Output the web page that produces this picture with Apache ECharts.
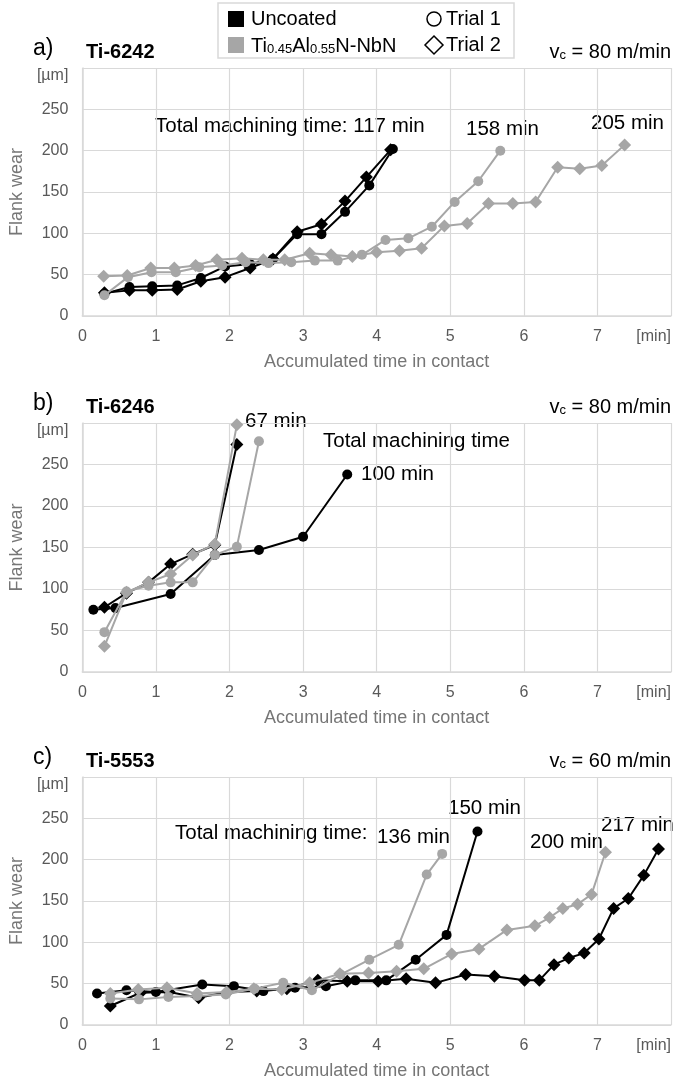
<!DOCTYPE html>
<html>
<head>
<meta charset="utf-8">
<script src="https://cdn.jsdelivr.net/npm/echarts@6/dist/echarts.min.js"></script>
<style>
  html, body { margin: 0; padding: 0; background: #ffffff; }
  #chart { width: 674px; height: 1081px; }
</style>
</head>
<body>
<div id="chart"></div>
<script>
// Tick labels (the last tick on each axis carries the unit)
const xTickLabels = ['0', '1', '2', '3', '4', '5', '6', '7', '[min]'];
const yTickLabels = ['0', '50', '100', '150', '200', '250', '[µm]'];

// a) Ti-6242, vc = 80 m/min  — [accumulated time in contact (min), flank wear (µm)]
const a_uncoated_trial1 = [[0.30,27],[0.64,35],[0.95,36],[1.29,37],[1.61,46],[1.94,60],[2.28,63],[2.59,69],[2.92,99],[3.25,99],[3.57,126],[3.90,158],[4.22,202]];
const a_uncoated_trial2 = [[0.30,28],[0.64,31],[0.95,31],[1.29,32],[1.61,42],[1.94,47],[2.28,58],[2.59,69],[2.92,102],[3.25,111],[3.57,139],[3.86,168],[4.19,201]];
const a_coated_trial1 = [[0.30,25],[0.62,47],[0.94,53],[1.27,53],[1.59,59],[1.90,61],[2.22,65],[2.53,64],[2.84,65],[3.16,67],[3.47,67],[3.80,74],[4.12,92],[4.43,94],[4.75,108],[5.06,138],[5.38,163],[5.68,200]];
const a_coated_trial2 = [[0.29,48],[0.61,49],[0.93,58],[1.25,58],[1.54,61],[1.83,68],[2.17,70],[2.46,68],[2.75,68],[3.09,76],[3.38,74],[3.67,72],[4.00,77],[4.31,79],[4.61,82],[4.92,109],[5.23,112],[5.52,136],[5.85,136],[6.16,138],[6.46,180],[6.76,178],[7.06,182],[7.37,207]];

// b) Ti-6246, vc = 80 m/min
const b_uncoated_trial1 = [[0.15,75],[0.45,77],[1.20,94],[1.80,141],[2.40,147],[3.00,163],[3.60,238]];
const b_uncoated_trial2 = [[0.30,78],[0.60,95],[0.90,108],[1.20,130],[1.50,142],[1.80,153],[2.10,274]];
const b_coated_trial1 = [[0.30,48],[0.60,97],[0.90,104],[1.20,108],[1.50,108],[1.80,141],[2.10,151],[2.40,278]];
const b_coated_trial2 = [[0.30,31],[0.60,96],[0.90,108],[1.20,118],[1.50,141],[1.80,154],[2.10,298]];

// c) Ti-5553, vc = 60 m/min
const c_uncoated_trial1 = [[0.20,38],[0.60,42],[1.00,40],[1.63,49],[2.06,47],[2.46,41],[2.89,45],[3.31,47],[3.71,54],[4.13,54],[4.53,79],[4.95,109],[5.37,234]];
const c_uncoated_trial2 = [[0.38,23],[0.79,39],[1.18,40],[1.58,33],[1.97,40],[2.37,41],[2.78,44],[3.20,54],[3.60,53],[4.02,53],[4.40,56],[4.80,51],[5.21,61],[5.60,59],[6.01,54],[6.21,54],[6.41,73],[6.61,81],[6.82,87],[7.02,104],[7.22,141],[7.42,153],[7.63,181],[7.83,213]];
const c_coated_trial1 = [[0.38,32],[0.77,31],[1.17,34],[1.56,35],[1.95,37],[2.34,44],[2.73,51],[3.12,42],[3.51,61],[3.90,79],[4.30,97],[4.68,182],[4.89,207]];
const c_coated_trial2 = [[0.38,38],[0.76,43],[1.15,45],[1.56,38],[1.96,40],[2.33,44],[2.71,43],[3.09,51],[3.50,62],[3.89,63],[4.27,65],[4.64,68],[5.02,86],[5.39,92],[5.77,115],[6.15,120],[6.35,130],[6.53,141],[6.73,146],[6.92,158],[7.11,209]];

const FONT = '"Liberation Sans", Arial, sans-serif';
const BLACK = '#000000';
const GREY = '#a6a6a6';
const GRID_LINE = '#d9d9d9';
const TICK_TEXT = '#595959';
const NAME_TEXT = '#767676';

const panels = [
  { top: 68, height: 248, series: [a_uncoated_trial1, a_uncoated_trial2, a_coated_trial1, a_coated_trial2] },
  { top: 423, height: 249, series: [b_uncoated_trial1, b_uncoated_trial2, b_coated_trial1, b_coated_trial2] },
  { top: 777, height: 249, series: [c_uncoated_trial1, c_uncoated_trial2, c_coated_trial1, c_coated_trial2] }
];

const grids = panels.map(p => ({ left: 77.5, right: 3, top: p.top, height: p.height, containLabel: false }));

const xAxes = panels.map((p, i) => ({
  gridIndex: i, type: 'value', min: 0, max: 8, interval: 1,
  axisLine: { show: true, onZero: false, lineStyle: { color: GRID_LINE, width: 1.5 } },
  axisTick: { show: false },
  splitLine: { show: true, lineStyle: { color: GRID_LINE, width: 1.2 } },
  axisLabel: {
    formatter: v => xTickLabels[Math.round(v)],
    color: TICK_TEXT, fontSize: 16, fontFamily: FONT, margin: 13,
    alignMaxLabel: 'right'
  },
  name: 'Accumulated time in contact', nameLocation: 'middle', nameGap: 37,
  nameTextStyle: { color: NAME_TEXT, fontSize: 18, fontFamily: FONT }
}));

const yAxes = panels.map((p, i) => ({
  gridIndex: i, type: 'value', min: 0, max: 300, interval: 50,
  axisLine: { show: true, lineStyle: { color: GRID_LINE, width: 1.5 } },
  axisTick: { show: false },
  splitLine: { show: true, lineStyle: { color: GRID_LINE, width: 1.2 } },
  axisLabel: {
    formatter: v => yTickLabels[Math.round(v / 50)],
    color: TICK_TEXT, fontSize: 16, fontFamily: FONT, margin: 14,
    verticalAlignMaxLabel: 'top'
  },
  name: 'Flank wear', nameLocation: 'middle', nameGap: 46, nameRotate: 90,
  nameTextStyle: { color: NAME_TEXT, fontSize: 18, fontFamily: FONT }
}));

// series order inside each panel: uncoated trial 1, uncoated trial 2, coated trial 1, coated trial 2
const styles = [
  { color: BLACK, symbol: 'circle', size: 10 },
  { color: BLACK, symbol: 'diamond', size: 13 },
  { color: GREY, symbol: 'circle', size: 10 },
  { color: GREY, symbol: 'diamond', size: 13 }
];

const series = [];
panels.forEach((p, i) => {
  p.series.forEach((data, k) => {
    const s = styles[k];
    series.push({
      type: 'line', xAxisIndex: i, yAxisIndex: i, data,
      symbol: s.symbol, symbolSize: s.size, showSymbol: true,
      itemStyle: { color: s.color, borderWidth: 0 },
      lineStyle: { color: s.color, width: 2 },
      z: 2 + k, animation: false, clip: false
    });
  });
});

const sub = { fontSize: 13, lineHeight: 11, verticalAlign: 'bottom', fontFamily: FONT, fill: BLACK };
function txt(x, y, text, opts) {
  return {
    type: 'text', x, y, silent: true,
    style: Object.assign({ text, fontSize: 20.5, fontFamily: FONT, fill: BLACK, align: 'left', verticalAlign: 'middle' }, opts || {})
  };
}
function vcLabel(y, speed) {
  return {
    type: 'text', x: 671, y, silent: true,
    style: {
      text: '{n|v}{s|c}{n| = ' + speed + ' m/min}', align: 'right', verticalAlign: 'bottom',
      rich: { n: { fontSize: 20, lineHeight: 24, verticalAlign: 'bottom', fontFamily: FONT, fill: BLACK }, s: sub }
    }
  };
}
// panel letter and alloy name, centred on the given line
function panelTitle(y, letter, alloy) {
  return [
    txt(33, y - 3, letter, { fontSize: 23 }),
    txt(86, y, alloy, { fontSize: 20, fontWeight: 'bold' })
  ];
}

const graphic = [
  // legend box
  { type: 'rect', shape: { x: 218, y: 3, width: 296, height: 55 }, style: { fill: '#ffffff', stroke: GRID_LINE, lineWidth: 1.5 }, silent: true },
  { type: 'rect', shape: { x: 228, y: 11, width: 16, height: 16 }, style: { fill: BLACK }, silent: true },
  { type: 'rect', shape: { x: 228, y: 37, width: 16, height: 16 }, style: { fill: GREY }, silent: true },
  txt(251, 19, 'Uncoated', { fontSize: 20 }),
  {
    type: 'text', x: 251, y: 56, silent: true,
    style: {
      text: '{n|Ti}{s|0.45}{n|Al}{s|0.55}{n|N-NbN}', align: 'left', verticalAlign: 'bottom',
      rich: { n: { fontSize: 20, lineHeight: 24, verticalAlign: 'bottom', fontFamily: FONT, fill: BLACK }, s: sub }
    }
  },
  { type: 'circle', shape: { cx: 434, cy: 19, r: 7 }, style: { fill: 'none', stroke: BLACK, lineWidth: 1.5 }, silent: true },
  { type: 'polygon', shape: { points: [[434, 36], [443, 45], [434, 54], [425, 45]] }, style: { fill: 'none', stroke: BLACK, lineWidth: 1.5 }, silent: true },
  txt(446, 19, 'Trial 1', { fontSize: 20 }),
  txt(446, 45, 'Trial 2', { fontSize: 20 }),

  // panel headings
  ...panelTitle(52, 'a)', 'Ti-6242'),
  vcLabel(62, 80),
  ...panelTitle(407, 'b)', 'Ti-6246'),
  vcLabel(417, 80),
  ...panelTitle(761, 'c)', 'Ti-5553'),
  vcLabel(771, 60),

  // total machining times, a)
  txt(155, 126, 'Total machining time: 117 min'),
  txt(466, 129, '158 min'),
  txt(591, 123, '205 min'),
  // b)
  txt(245, 421, '67 min'),
  txt(323, 441, 'Total machining time'),
  txt(361, 474, '100 min'),
  // c)
  txt(175, 833, 'Total machining time:'),
  txt(377, 837, '136 min'),
  txt(448, 808, '150 min'),
  txt(530, 842, '200 min'),
  txt(601, 825, '217 min')
];

const chart = echarts.init(document.getElementById('chart'), null, { renderer: 'canvas' });
chart.setOption({
  animation: false,
  backgroundColor: '#ffffff',
  grid: grids,
  xAxis: xAxes,
  yAxis: yAxes,
  series,
  graphic
});
</script>
</body>
</html>
